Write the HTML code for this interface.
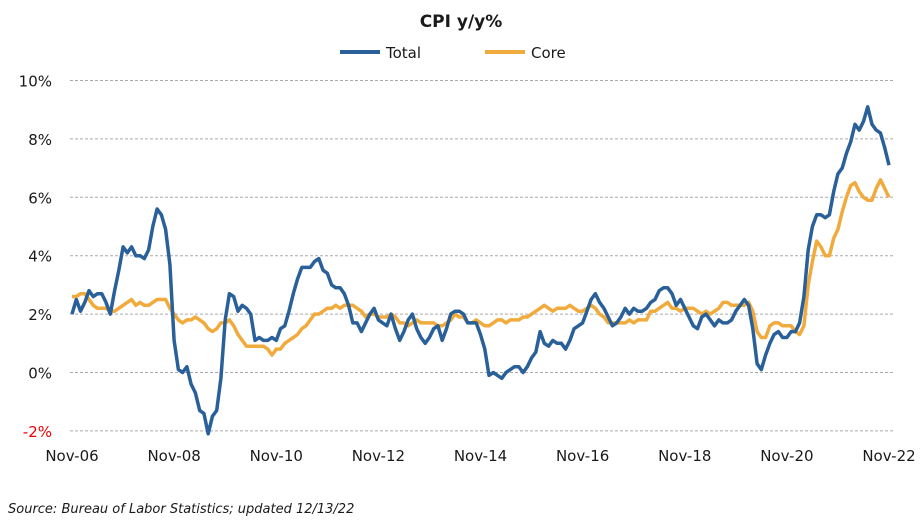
<!DOCTYPE html>
<html><head><meta charset="utf-8"><style>
body{margin:0;background:#fff;width:922px;height:523px;overflow:hidden}
svg{display:block}
text{font-family:"DejaVu Sans","Liberation Sans",sans-serif;fill:#1a1a1a}
</style></head><body>
<svg id="s" width="922" height="523" xmlns="http://www.w3.org/2000/svg">
<text x="461" y="27" text-anchor="middle" font-size="17" font-weight="bold">CPI y/y%</text>
<line x1="340" y1="52" x2="380" y2="52" stroke="#2a6099" stroke-width="4"/>
<text x="386" y="58" font-size="15">Total</text>
<line x1="485" y1="52" x2="525" y2="52" stroke="#f0ab3c" stroke-width="4"/>
<text x="531" y="58" font-size="15">Core</text>
<g id="grid" stroke="#aaa" stroke-width="1" stroke-dasharray="3,2"></g>
<g id="ylab" font-size="15" text-anchor="end"></g>
<g id="xlab" font-size="15" text-anchor="middle"></g>
<polyline id="core" fill="none" stroke="#f0ab3c" stroke-width="3.5" stroke-linejoin="round"/>
<polyline id="tot" fill="none" stroke="#2a6099" stroke-width="3.5" stroke-linejoin="round"/>
<text x="8" y="513" font-size="13" font-style="italic">Source: Bureau of Labor Statistics; updated 12/13/22</text>
</svg>
<script>
var T=[2.0,2.5,2.1,2.4,2.8,2.6,2.7,2.7,2.4,2.0,2.8,3.5,4.3,4.1,4.3,4.0,4.0,3.9,4.2,5.0,5.6,5.4,4.9,3.7,1.1,0.1,0.0,0.2,-0.4,-0.7,-1.3,-1.4,-2.1,-1.5,-1.3,-0.2,1.8,2.7,2.6,2.1,2.3,2.2,2.0,1.1,1.2,1.1,1.1,1.2,1.1,1.5,1.6,2.1,2.7,3.2,3.6,3.6,3.6,3.8,3.9,3.5,3.4,3.0,2.9,2.9,2.7,2.3,1.7,1.7,1.4,1.7,2.0,2.2,1.8,1.7,1.6,2.0,1.5,1.1,1.4,1.8,2.0,1.5,1.2,1.0,1.2,1.5,1.6,1.1,1.5,2.0,2.1,2.1,2.0,1.7,1.7,1.7,1.3,0.8,-0.1,0.0,-0.1,-0.2,0.0,0.1,0.2,0.2,0.0,0.2,0.5,0.7,1.4,1.0,0.9,1.1,1.0,1.0,0.8,1.1,1.5,1.6,1.7,2.1,2.5,2.7,2.4,2.2,1.9,1.6,1.7,1.9,2.2,2.0,2.2,2.1,2.1,2.2,2.4,2.5,2.8,2.9,2.9,2.7,2.3,2.5,2.2,1.9,1.6,1.5,1.9,2.0,1.8,1.6,1.8,1.7,1.7,1.8,2.1,2.3,2.5,2.3,1.5,0.3,0.1,0.6,1.0,1.3,1.4,1.2,1.2,1.4,1.4,1.7,2.6,4.2,5.0,5.4,5.4,5.3,5.4,6.2,6.8,7.0,7.5,7.9,8.5,8.3,8.6,9.1,8.5,8.3,8.2,7.7,7.1];
var C=[2.6,2.6,2.7,2.7,2.5,2.3,2.2,2.2,2.2,2.1,2.1,2.2,2.3,2.4,2.5,2.3,2.4,2.3,2.3,2.4,2.5,2.5,2.5,2.2,2.0,1.8,1.7,1.8,1.8,1.9,1.8,1.7,1.5,1.4,1.5,1.7,1.7,1.8,1.6,1.3,1.1,0.9,0.9,0.9,0.9,0.9,0.8,0.6,0.8,0.8,1.0,1.1,1.2,1.3,1.5,1.6,1.8,2.0,2.0,2.1,2.2,2.2,2.3,2.2,2.3,2.3,2.3,2.2,2.1,1.9,2.0,2.0,1.9,1.9,1.9,2.0,1.9,1.7,1.7,1.6,1.7,1.8,1.7,1.7,1.7,1.7,1.6,1.6,1.7,1.8,2.0,1.9,1.9,1.7,1.7,1.8,1.7,1.6,1.6,1.7,1.8,1.8,1.7,1.8,1.8,1.8,1.9,1.9,2.0,2.1,2.2,2.3,2.2,2.1,2.2,2.2,2.2,2.3,2.2,2.1,2.1,2.2,2.3,2.2,2.0,1.9,1.7,1.7,1.7,1.7,1.7,1.8,1.7,1.8,1.8,1.8,2.1,2.1,2.2,2.3,2.4,2.2,2.2,2.1,2.2,2.2,2.2,2.1,2.0,2.1,2.0,2.1,2.2,2.4,2.4,2.3,2.3,2.3,2.3,2.4,2.1,1.4,1.2,1.2,1.6,1.7,1.7,1.6,1.6,1.6,1.4,1.3,1.6,3.0,3.8,4.5,4.3,4.0,4.0,4.6,4.9,5.5,6.0,6.4,6.5,6.2,6.0,5.9,5.9,6.3,6.6,6.3,6.0];
var x0=72,dx=(889-72)/192,y0=372.5,dy=29.2;
function X(i){return x0+i*dx}function Y(v){return y0-v*dy}
function pts(a){return a.map(function(v,i){return X(i).toFixed(1)+","+Y(v).toFixed(1)}).join(" ")}
document.getElementById("tot").setAttribute("points",pts(T));
document.getElementById("core").setAttribute("points",pts(C));
var ns="http://www.w3.org/2000/svg",g=document.getElementById("grid"),yl=document.getElementById("ylab"),xl=document.getElementById("xlab");
for(var v=-2;v<=10;v+=2){var l=document.createElementNS(ns,"line");l.setAttribute("x1",70);l.setAttribute("x2",893);l.setAttribute("y1",Y(v));l.setAttribute("y2",Y(v));g.appendChild(l);
var t=document.createElementNS(ns,"text");t.setAttribute("x",52);t.setAttribute("y",Y(v)+6);t.textContent=v+"%";if(v<0)t.setAttribute("style","fill:#e00");yl.appendChild(t);}
for(var k=0;k<=8;k++){var t=document.createElementNS(ns,"text");t.setAttribute("x",X(k*24));t.setAttribute("y",461);var yy=6+2*k;t.textContent="Nov-"+(yy<10?"0":"")+yy;xl.appendChild(t);}
</script>
</body></html>
